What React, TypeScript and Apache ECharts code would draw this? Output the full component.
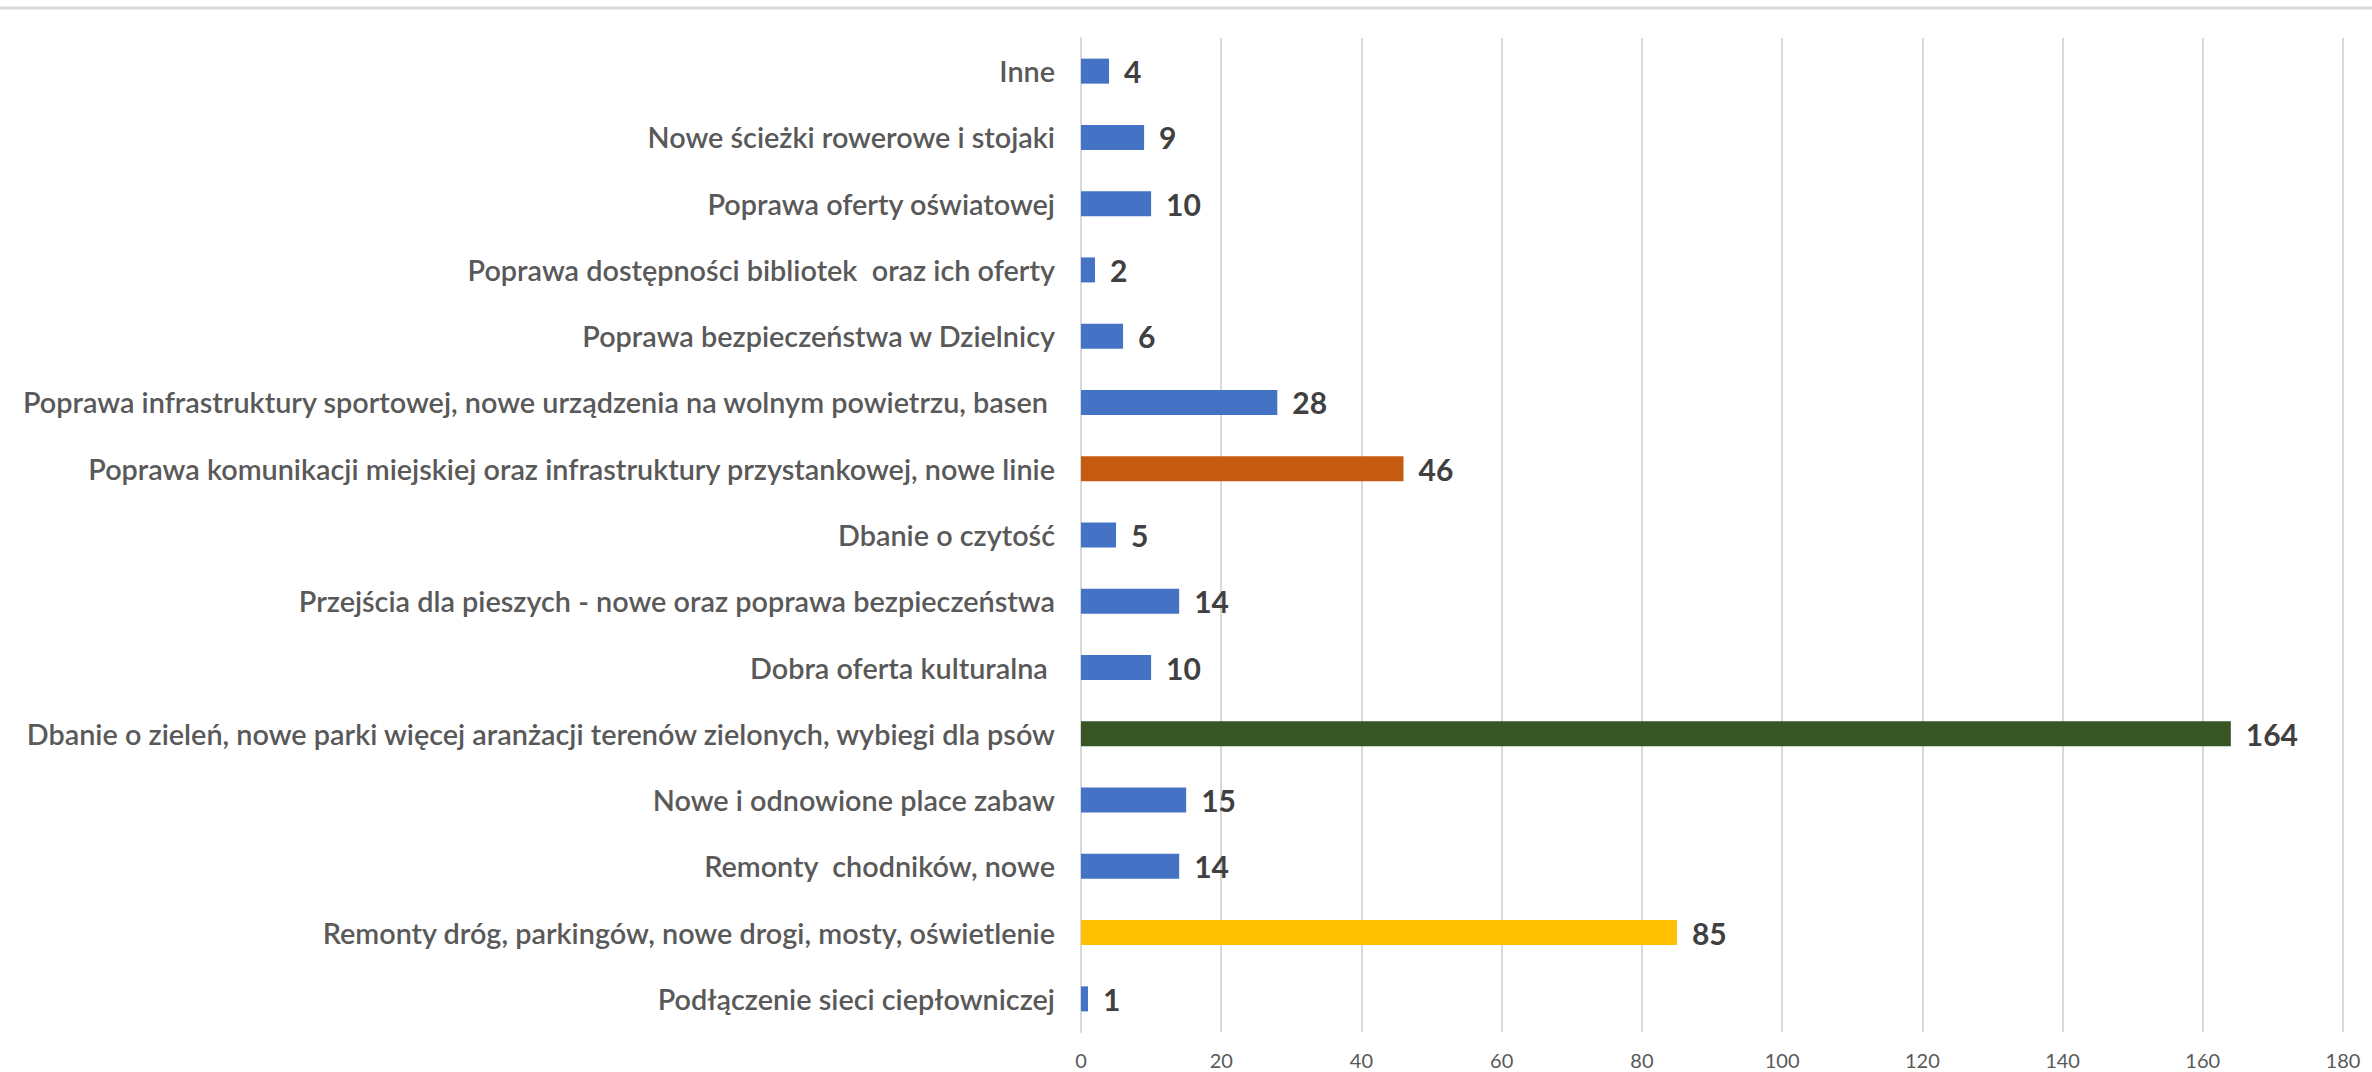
import React, { useEffect, useRef } from "react";
import * as echarts from "echarts";

const categories = [
  "Inne",
  "Nowe ścieżki rowerowe i stojaki",
  "Poprawa oferty oświatowej",
  "Poprawa dostępności bibliotek  oraz ich oferty",
  "Poprawa bezpieczeństwa w Dzielnicy",
  "Poprawa infrastruktury sportowej, nowe urządzenia na wolnym powietrzu, basen ",
  "Poprawa komunikacji miejskiej oraz infrastruktury przystankowej, nowe linie",
  "Dbanie o czytość",
  "Przejścia dla pieszych - nowe oraz poprawa bezpieczeństwa",
  "Dobra oferta kulturalna ",
  "Dbanie o zieleń, nowe parki więcej aranżacji terenów zielonych, wybiegi dla psów",
  "Nowe i odnowione place zabaw",
  "Remonty  chodników, nowe",
  "Remonty dróg, parkingów, nowe drogi, mosty, oświetlenie",
  "Podłączenie sieci ciepłowniczej",
];

const values = [4, 9, 10, 2, 6, 28, 46, 5, 14, 10, 164, 15, 14, 85, 1];

const barColors = [
  "#4472C4", "#4472C4", "#4472C4", "#4472C4", "#4472C4",
  "#4472C4", "#C55A11", "#4472C4", "#4472C4", "#4472C4",
  "#375623", "#4472C4", "#4472C4", "#FFC000", "#4472C4",
];

const xMin = 0;
const xMax = 180;
const xInterval = 20;

export default function App() {
  const ref = useRef<HTMLDivElement>(null);
  useEffect(() => {
    if (!ref.current) return;
    const chart = echarts.init(ref.current, undefined, { renderer: "svg" });
    chart.setOption({
      animation: false,
      backgroundColor: "#ffffff",
      graphic: [
        {
          type: "line",
          shape: { x1: 0, y1: 8, x2: 2372, y2: 8 },
          style: { stroke: "#d9d9d9", lineWidth: 3 },
        },
      ],
      grid: { left: 1081, right: 29, top: 38, bottom: 40, containLabel: false },
      xAxis: {
        type: "value",
        min: xMin,
        max: xMax,
        interval: xInterval,
        axisLine: { show: false },
        axisTick: { show: false },
        splitLine: { show: true, lineStyle: { color: "#d9d9d9", width: 2 } },
        axisLabel: {
          color: "#595959",
          fontFamily: "Lato",
          fontSize: 20,
          margin: 18,
        },
      },
      yAxis: {
        type: "category",
        inverse: true,
        data: categories,
        axisLine: { show: true, lineStyle: { color: "#d9d9d9", width: 2 } },
        axisTick: { show: false },
        axisLabel: {
          color: "#595959",
          fontFamily: "Lato",
          fontSize: 28.8,
          fontWeight: 600,
          margin: 26,
        },
      },
      series: [
        {
          type: "bar",
          data: values.map((v, i) => ({ value: v, itemStyle: { color: barColors[i] } })),
          barWidth: 25,
          label: {
            show: true,
            position: "right",
            distance: 15,
            color: "#404040",
            fontFamily: "Lato",
            fontSize: 30,
            fontWeight: "bold",
          },
        },
      ],
    });
    return () => chart.dispose();
  }, []);
  return (
    <div
      ref={ref}
      style={{ position: "fixed", left: 0, top: 0, width: 2372, height: 1072 }}
    />
  );
}
